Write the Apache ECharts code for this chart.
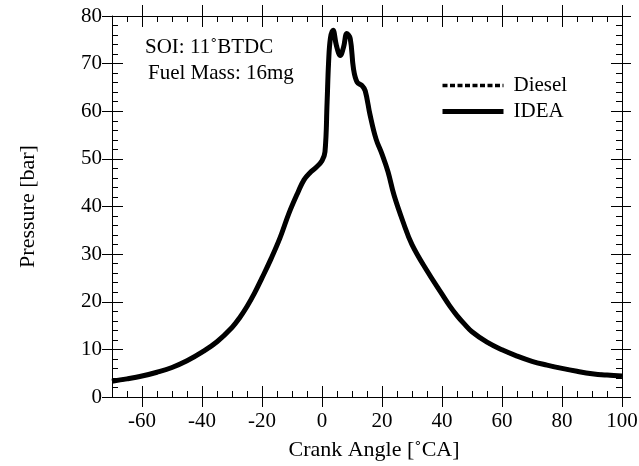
<!DOCTYPE html>
<html>
<head>
<meta charset="utf-8">
<script src="https://cdn.jsdelivr.net/npm/echarts@6/dist/echarts.min.js"></script>
<style>
html,body{margin:0;padding:0;background:#fff;}
#chart{width:639px;height:466px;}
</style>
</head>
<body>
<div id="chart"></div>
<script>
// Data
const crankAngle = [-70,-65,-60,-55,-50,-45,-40,-35,-30,-27.5,-25,-22.5,-20,-17,-14,-11,-8,-6,-4,-2,0,1,1.7,2.2,2.8,3.7,4.8,6.1,7.2,8.3,9.4,10.5,11.7,13.3,14.4,16,18,20,22,24,27,30,35,40,42.5,45,47.5,50,55,60,65,70,75,80,85,90,95,100];
const dieselPressure = [3.3,3.8,4.4,5.2,6.2,7.6,9.4,11.6,14.6,16.6,19.0,21.8,25.0,29.0,33.4,38.6,43.0,45.6,47.1,48.2,49.6,51.5,61.9,70.3,75.3,77.0,73.8,71.7,73.5,76.3,75.3,68.9,66.1,65.4,64.3,59.3,54.2,51.0,47.3,42.4,36.8,32.0,26.5,21.6,19.2,17.1,15.3,13.7,11.5,9.9,8.6,7.5,6.7,6.0,5.4,4.9,4.6,4.4];
const ideaPressure = [3.3,3.8,4.4,5.2,6.2,7.6,9.4,11.6,14.6,16.6,19.0,21.8,25.0,29.0,33.4,38.6,43.0,45.6,47.1,48.2,49.6,51.5,61.9,70.3,75.3,77.0,73.8,71.7,73.5,76.3,75.3,68.9,66.1,65.4,64.3,59.3,54.2,51.0,47.3,42.4,36.8,32.0,26.5,21.6,19.2,17.1,15.3,13.7,11.5,9.9,8.6,7.5,6.7,6.0,5.4,4.9,4.6,4.4];
const xMajorTicks = [-60,-40,-20,0,20,40,60,80,100];
const xMinorTicks = [-65,-55,-50,-45,-35,-30,-25,-15,-10,-5,5,10,15,25,30,35,45,50,55,65,70,75,85,90,95];
const seriesNames = ['Diesel','IDEA'];
const xName = 'Crank Angle [˚CA]';
const yName = 'Pressure [bar]';
const note1 = 'SOI: 11˚BTDC';
const note2 = 'Fuel Mass: 16mg';

const FONT = '"Liberation Serif", "Times New Roman", serif';
const black = '#000';

function xAxisBase(pos, extra) {
  return Object.assign({
    type: 'value', min: -70, max: 100, position: pos,
    axisLine: { show: true, onZero: false, lineStyle: { color: black, width: 1 } },
    splitLine: { show: false },
    axisLabel: { show: false },
    axisTick: { show: false }
  }, extra);
}
function yAxisBase(pos, extra) {
  return Object.assign({
    type: 'value', min: 0, max: 80, interval: 10, position: pos,
    axisLine: { show: true, onZero: false, lineStyle: { color: black, width: 1 } },
    splitLine: { show: false },
    axisLabel: { show: false },
    axisTick: { show: false }
  }, extra);
}

const chart = echarts.init(document.getElementById('chart'), null, { renderer: 'canvas' });
chart.setOption({
  backgroundColor: '#fff',
  animation: false,
  grid: { left: 112, right: 17, top: 16, bottom: 69, outerBoundsMode: 'none' },
  xAxis: [
    xAxisBase('bottom', {
      name: xName, nameLocation: 'middle', nameGap: 42,
      nameTextStyle: { fontFamily: FONT, fontSize: 22, color: black, padding: [0, 0, 0, 14] },
      axisTick: { show: true, inside: true, length: 6, customValues: xMinorTicks, lineStyle: { color: black } },
      axisLabel: { show: true, customValues: xMajorTicks, margin: 14, fontFamily: FONT, fontSize: 21, color: black }
    }),
    xAxisBase('bottom', {
      offset: 10, axisLine: { show: false, onZero: false },
      axisTick: { show: true, inside: true, length: 21, customValues: xMajorTicks, lineStyle: { color: black } }
    }),
    xAxisBase('top', {
      axisTick: { show: true, inside: true, length: 6, customValues: xMinorTicks, lineStyle: { color: black } }
    }),
    xAxisBase('top', {
      offset: 11, axisLine: { show: false, onZero: false },
      axisTick: { show: true, inside: true, length: 22, customValues: xMajorTicks, lineStyle: { color: black } }
    })
  ],
  yAxis: [
    yAxisBase('left', {
      name: yName, nameLocation: 'middle', nameGap: 73,
      nameTextStyle: { fontFamily: FONT, fontSize: 22, color: black },
      axisTick: { show: false, inside: true },
      minorTick: { show: true, splitNumber: 5, length: 6, lineStyle: { color: black } },
      axisLabel: { show: true, margin: 10, fontFamily: FONT, fontSize: 21, color: black }
    }),
    yAxisBase('left', {
      offset: 10, axisLine: { show: false, onZero: false },
      axisTick: { show: true, inside: true, length: 21, lineStyle: { color: black } }
    }),
    yAxisBase('right', {
      axisTick: { show: false, inside: true },
      minorTick: { show: true, splitNumber: 5, length: 6, lineStyle: { color: black } }
    }),
    yAxisBase('right', {
      offset: 9, axisLine: { show: false, onZero: false },
      axisTick: { show: true, inside: true, length: 20, lineStyle: { color: black } }
    })
  ],
  legend: {
    orient: 'vertical', left: 440, top: 75, padding: 0, itemGap: 5,
    itemWidth: 61, itemHeight: 14,
    itemStyle: { color: 'rgba(0,0,0,0)', borderWidth: 0, opacity: 0 },
    lineStyle: { width: 'inherit' },
    textStyle: { fontFamily: FONT, fontSize: 21, color: black, padding: [0, 0, 0, 5] },
    data: seriesNames
  },
  graphic: [
    { type: 'text', left: 145, top: 37, style: { text: note1, font: '21px ' + FONT, fill: black } },
    { type: 'text', left: 148, top: 63, style: { text: note2, font: '21px ' + FONT, fill: black } }
  ],
  series: [
    {
      name: seriesNames[1], type: 'line', xAxisIndex: 0, yAxisIndex: 0,
      data: crankAngle.map((a, i) => [a, ideaPressure[i]]),
      symbol: 'none', smooth: 0.4,
      lineStyle: { color: black, width: 5, type: 'solid' },
      itemStyle: { color: black }
    },
    {
      name: seriesNames[0], type: 'line', xAxisIndex: 0, yAxisIndex: 0,
      data: crankAngle.map((a, i) => [a, dieselPressure[i]]),
      symbol: 'none', smooth: 0.4,
      lineStyle: { color: black, width: 3.5, type: [5, 2.5] },
      itemStyle: { color: black }
    }
  ]
});
</script>
</body>
</html>
